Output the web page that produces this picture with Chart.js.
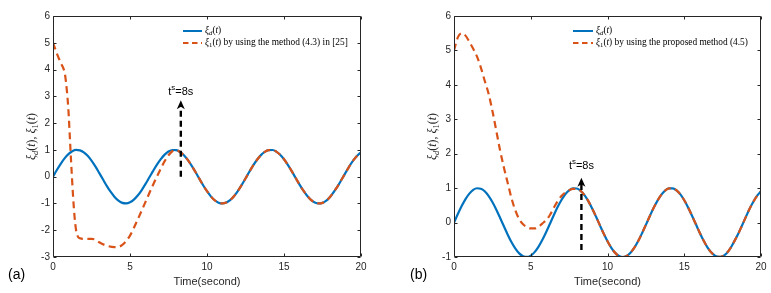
<!DOCTYPE html>
<html><head><meta charset="utf-8">
<script src="https://cdn.jsdelivr.net/npm/chart.js@4.4.1/dist/chart.umd.min.js"></script>
<style>
html,body{margin:0;padding:0;background:#fff;}
#wrap{position:relative;width:771px;height:293px;overflow:hidden;}
canvas{position:absolute;top:0;}
#c1{left:0;}
#c2{left:390px;}
</style></head><body>
<div id="wrap">
<canvas id="c1" width="390" height="293"></canvas>
<canvas id="c2" width="381" height="293"></canvas>
</div>
<script>
// ---------- data ----------
const xTicks = [0, 5, 10, 15, 20];
const yTicksA = [-3, -2, -1, 0, 1, 2, 3, 4, 5, 6];
const yTicksB = [-1, 0, 1, 2, 3, 4, 5, 6];

const timeGrid = [0,0.25,0.5,0.75,1,1.25,1.5,1.75,2,2.25,2.5,2.75,3,3.25,3.5,3.75,4,4.25,4.5,4.75,5,5.25,5.5,5.75,6,6.25,6.5,6.75,7,7.25,7.5,7.75,8,8.25,8.5,8.75,9,9.25,9.5,9.75,10,10.25,10.5,10.75,11,11.25,11.5,11.75,12,12.25,12.5,12.75,13,13.25,13.5,13.75,14,14.25,14.5,14.75,15,15.25,15.5,15.75,16,16.25,16.5,16.75,17,17.25,17.5,17.75,18,18.25,18.5,18.75,19,19.25,19.5,19.75,20];

// reference signal xi_d(t)
const xiD = [0,0.247,0.479,0.682,0.841,0.949,0.997,0.984,0.909,0.778,0.598,0.382,0.141,
-0.108,-0.351,-0.572,-0.757,-0.895,-0.978,-0.999,-0.959,-0.859,-0.706,-0.508,-0.279,
-0.033,0.215,0.451,0.657,0.823,0.938,0.995,0.989,0.922,0.798,0.624,0.412,
0.174,-0.075,-0.319,-0.544,-0.735,-0.880,-0.970,-1.000,-0.967,-0.875,-0.729,-0.537,
-0.310,-0.066,0.182,0.420,0.631,0.804,0.926,0.991,0.995,0.935,0.818,0.650,
0.441,0.207,-0.041,-0.288,-0.516,-0.712,-0.865,-0.961,-0.999,-0.978,-0.897,-0.751,
-0.554,-0.342,-0.098,0.150,0.393,0.605,0.780,0.913];

// (a) xi_1(t) by method (4.3) in [25]
const timeRedA = [0,0.25,0.5,0.75,0.85,1,1.1,1.2,1.3,1.4,1.5,1.6,1.75,2,2.5,2.75,3,3.5,4,4.25,4.5,4.75,5,5.5,6,6.5,7,7.25,7.5,7.75,8,
8.25,8.5,8.75,9,9.25,9.5,9.75,10,10.25,10.5,10.75,11,11.25,11.5,11.75,12,12.25,12.5,12.75,13,13.25,13.5,13.75,14,14.25,14.5,14.75,15,15.25,15.5,15.75,16,16.25,16.5,16.75,17,17.25,17.5,17.75,18,18.25,18.5,18.75,19,19.25,19.5,19.75,20];
const xi1A = [5.0,4.6,4.25,3.9,3.5,2.5,1.4,0.3,-0.7,-1.5,-2.0,-2.22,-2.3,-2.32,-2.32,-2.35,-2.45,-2.58,-2.63,-2.62,-2.55,-2.4,-2.2,-1.6,-0.95,-0.3,0.3,0.58,0.8,0.95,0.99,
0.922,0.798,0.624,0.412,
0.174,-0.075,-0.319,-0.544,-0.735,-0.880,-0.970,-1.000,-0.967,-0.875,-0.729,-0.537,
-0.310,-0.066,0.182,0.420,0.631,0.804,0.926,0.991,0.995,0.935,0.818,0.650,
0.441,0.207,-0.041,-0.288,-0.516,-0.712,-0.865,-0.961,-0.999,-0.978,-0.897,-0.751,
-0.554,-0.342,-0.098,0.150,0.393,0.605,0.780,0.913];

// (b) xi_1(t) by proposed method (4.5)
const xi1B = [5.0,5.38,5.5,5.43,5.25,5.05,4.82,4.5,4.12,3.75,3.25,2.68,2.1,
1.6,1.15,0.7,0.35,0.1,-0.05,-0.13,-0.17,-0.17,-0.13,-0.03,0.07,
0.22,0.43,0.62,0.77,0.87,0.94,0.98,0.97,0.922,0.798,0.624,0.412,
0.174,-0.075,-0.319,-0.544,-0.735,-0.880,-0.970,-1.000,-0.967,-0.875,-0.729,-0.537,
-0.310,-0.066,0.182,0.420,0.631,0.804,0.926,0.991,0.995,0.935,0.818,0.650,
0.441,0.207,-0.041,-0.288,-0.516,-0.712,-0.865,-0.961,-0.999,-0.978,-0.897,-0.751,
-0.554,-0.342,-0.098,0.150,0.393,0.605,0.780,0.913];

const legendA = 'by using the method (4.3) in [25]';
const legendB = 'by using the proposed method (4.5)';

// ---------- drawing helpers ----------
const SANS = '"Liberation Sans", Arial, sans-serif';
const SERIF = '"Liberation Serif", "DejaVu Serif", serif';
const BLUE = '#0072BD', RED = '#D95319', AXC = '#262626';

function segFont(s, size, fam) {
  const fs = s.s ? size * 0.72 : size;
  return (s.i ? 'italic ' : '') + fs + 'px ' + fam;
}
function richWidth(ctx, segs, size, fam) {
  let w = 0;
  segs.forEach(s => { ctx.font = segFont(s, size, fam); w += ctx.measureText(s.t).width; });
  return w;
}
function drawRich(ctx, segs, x, y, size, fam, align) {
  const w = richWidth(ctx, segs, size, fam);
  let cx = align === 'center' ? x - w / 2 : (align === 'right' ? x - w : x);
  ctx.textAlign = 'left'; ctx.textBaseline = 'middle';
  segs.forEach(s => {
    ctx.font = segFont(s, size, fam);
    const dy = s.s === -1 ? size * 0.28 : (s.s === 1 ? -size * 0.38 : 0);
    ctx.fillText(s.t, cx, y + dy);
    cx += ctx.measureText(s.t).width;
  });
  return w;
}
function fitSize(ctx, segs, fam, target) {
  return 10 * target / richWidth(ctx, segs, 10, fam);
}
const segXiD = [{t:'ξ',i:1},{t:'d',i:1,s:-1},{t:'('},{t:'t',i:1},{t:')'}];
const segXi1 = [{t:'ξ',i:1},{t:'1',s:-1},{t:'('},{t:'t',i:1},{t:')'}];

const deco = {
  id: 'deco',
  afterDraw(chart, args, o) {
    const ctx = chart.ctx, a = chart.chartArea, xs = chart.scales.x, ys = chart.scales.y;
    ctx.save();
    // frame + inward ticks
    const L = Math.round(a.left) + 0.5, R = Math.round(a.right) - 0.5, T = Math.round(a.top) + 0.5, B = Math.round(a.bottom) - 0.5;
    ctx.strokeStyle = AXC; ctx.lineWidth = 1; ctx.setLineDash([]);
    ctx.beginPath();
    ctx.rect(L, T, R - L, B - T);
    xs.ticks.forEach(t => { const p = Math.round(xs.getPixelForValue(t.value)) + 0.5;
      ctx.moveTo(p, B); ctx.lineTo(p, B - 3); ctx.moveTo(p, T); ctx.lineTo(p, T + 3); });
    ys.ticks.forEach(t => { const p = Math.round(ys.getPixelForValue(t.value)) + 0.5;
      ctx.moveTo(L, p); ctx.lineTo(L + 3, p); ctx.moveTo(R, p); ctx.lineTo(R - 3, p); });
    ctx.stroke();

    // arrow annotation
    const ax = xs.getPixelForValue(o.arrowX);
    const y0 = ys.getPixelForValue(o.arrowFrom), y1 = ys.getPixelForValue(o.arrowTo);
    ctx.strokeStyle = '#000'; ctx.lineWidth = 2.4; ctx.setLineDash([6, 4]);
    ctx.beginPath(); ctx.moveTo(ax, y0); ctx.lineTo(ax, y1 + 6); ctx.stroke();
    ctx.setLineDash([]);
    ctx.fillStyle = '#000';
    ctx.beginPath(); ctx.moveTo(ax, y1); ctx.lineTo(ax - 4, y1 + 9); ctx.lineTo(ax, y1 + 6.5); ctx.lineTo(ax + 4, y1 + 9); ctx.closePath(); ctx.fill();
    drawRich(ctx, [{t:'t'},{t:'s',s:1},{t:'=8s'}], ax, ys.getPixelForValue(o.textY), 11, SANS, 'center');

    // legend
    const lx0 = o.legX0, lx1 = o.legX1, tx = o.legTX;
    ctx.lineWidth = 2;
    ctx.strokeStyle = BLUE; ctx.beginPath(); ctx.moveTo(lx0, o.row1); ctx.lineTo(lx1, o.row1); ctx.stroke();
    ctx.strokeStyle = RED; ctx.setLineDash([5.5, 3.5]); ctx.beginPath(); ctx.moveTo(lx0, o.row2); ctx.lineTo(lx1, o.row2); ctx.stroke();
    ctx.setLineDash([]);
    ctx.fillStyle = '#000';
    const seg2 = segXi1.concat([{t:' ' + o.legText}]);
    const fs = fitSize(ctx, seg2, SERIF, o.legW);
    drawRich(ctx, segXiD, tx, o.row1, fs, SERIF, 'left');
    drawRich(ctx, seg2, tx, o.row2, fs, SERIF, 'left');

    // y axis title (rotated)
    ctx.save();
    ctx.translate(o.yTitleX, (a.top + a.bottom) / 2);
    ctx.rotate(-Math.PI / 2);
    ctx.fillStyle = AXC;
    const ySegs = segXiD.concat([{t:', '}]).concat(segXi1);
    drawRich(ctx, ySegs, 0, 0, fitSize(ctx, ySegs, SERIF, 47), SERIF, 'center');
    ctx.restore();

    // panel label
    ctx.fillStyle = '#000';
    ctx.font = '14px ' + SANS; ctx.textAlign = 'left'; ctx.textBaseline = 'middle';
    ctx.fillText(o.panel, o.panelX, 275);
    ctx.restore();
  }
};

function pts(ts, vs) { return ts.map((t, i) => ({x: t, y: vs[i]})); }

function makeChart(id, redTimes, redVals, yTicks, yW, padR, decoOpts) {
  return new Chart(document.getElementById(id), {
    type: 'line',
    data: {
      datasets: [
        { label: 'ξ1(t)', data: pts(redTimes, redVals), borderColor: RED, borderWidth: 2.2,
          borderDash: [7, 4.5], pointRadius: 0, fill: false, cubicInterpolationMode: 'monotone', order: 0 },
        { label: 'ξd(t)', data: pts(timeGrid, xiD), borderColor: BLUE, borderWidth: 2.2,
          pointRadius: 0, fill: false, cubicInterpolationMode: 'monotone', order: 1 }
      ]
    },
    options: {
      responsive: false, animation: false, devicePixelRatio: 1,
      layout: { padding: { left: 0, right: padR, top: 16, bottom: 0 } },
      plugins: { legend: { display: false }, tooltip: { enabled: false }, deco: decoOpts },
      scales: {
        x: { type: 'linear', min: 0, max: 20,
          afterBuildTicks: s => { s.ticks = xTicks.map(v => ({value: v})); },
          afterFit: s => { s.height = 36; },
          grid: { display: false, drawTicks: false }, border: { display: false },
          ticks: { padding: 4, color: AXC, maxRotation: 0, font: { family: SANS, size: 10 } },
          title: { display: true, text: 'Time(second)', color: AXC, font: { family: SANS, size: 11 }, padding: { top: 0, bottom: 4 } } },
        y: { type: 'linear', min: yTicks[0], max: yTicks[yTicks.length - 1],
          afterBuildTicks: s => { s.ticks = yTicks.map(v => ({value: v})); },
          afterFit: s => { s.width = yW; },
          grid: { display: false, drawTicks: false }, border: { display: false },
          ticks: { padding: 3, color: AXC, font: { family: SANS, size: 10 } } }
      }
    },
    plugins: [deco]
  });
}

makeChart('c1', timeRedA, xi1A, yTicksA, 53, 29, {
  arrowX: 8.3, arrowFrom: 0, arrowTo: 2.85, textY: 3.17,
  legX0: 183, legX1: 202, legTX: 205, row1: 31, row2: 43, legText: legendA, legW: 143,
  yTitleX: 32, panel: '(a)', panelX: 8
});
makeChart('c2', timeGrid, xi1B, yTicksB, 64, 10, {
  arrowX: 8.3, arrowFrom: -0.8, arrowTo: 1.3, textY: 1.63,
  legX0: 183, legX1: 203, legTX: 206, row1: 31, row2: 43, legText: legendB, legW: 152,
  yTitleX: 43, panel: '(b)', panelX: 20
});
</script>
</body></html>
